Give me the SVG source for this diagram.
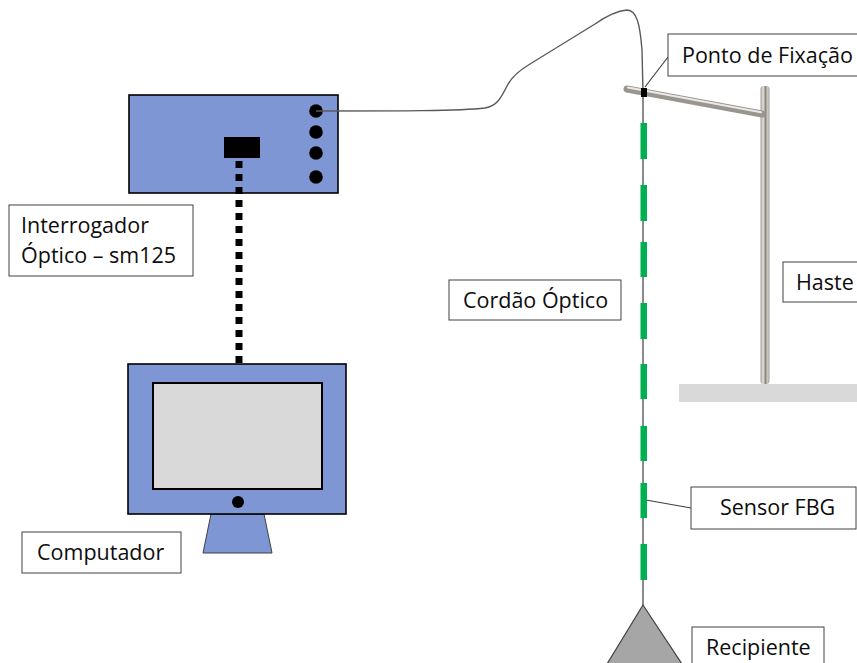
<svg xmlns="http://www.w3.org/2000/svg" width="857" height="663" viewBox="0 0 857 663">
  <style>
    .device { fill: #7F96D4; stroke: #000; stroke-width: 1.6; }
    .label-box { fill: #fff; stroke: #404040; stroke-width: 1; }
    .label { font-family: "Open Sans", "Liberation Sans", sans-serif; font-size: 21.5px; fill: #0d0d0d; }
    .leader { stroke: #404040; stroke-width: 1.2; fill: none; }
    .fbg { fill: #00B050; }
    .fiber { stroke: #595959; stroke-width: 1.4; fill: none; }
  </style>
  <defs>
    <linearGradient id="steel" x1="0" y1="0" x2="1" y2="0">
      <stop offset="0" stop-color="#a29d95"/>
      <stop offset="0.3" stop-color="#e4e1dc"/>
      <stop offset="0.55" stop-color="#8c877f"/>
      <stop offset="0.8" stop-color="#cfcbc5"/>
      <stop offset="1" stop-color="#a29d95"/>
    </linearGradient>
  </defs>

  <!-- stand: base plate, vertical pole and slanted arm -->
  <g id="haste">
    <rect x="679" y="384" width="178" height="18" fill="#D9D9D9"/>
    <rect x="760.5" y="86" width="9" height="298" rx="3" fill="url(#steel)"/>
    <line x1="627" y1="89" x2="762" y2="114" stroke="#9a958e" stroke-width="7" stroke-linecap="round"/>
    <line x1="628" y1="87.4" x2="761" y2="112.2" stroke="#ebe9e5" stroke-width="2" stroke-linecap="round"/>
  </g>

  <!-- optical interrogator -->
  <g id="interrogador">
    <rect class="device" x="129" y="95" width="209" height="98"/>
    <rect x="224" y="137" width="36" height="21" fill="#000"/>
    <circle cx="316" cy="111" r="6.8" fill="#000"/>
    <circle cx="316" cy="132" r="6.8" fill="#000"/>
    <circle cx="316" cy="153" r="6.8" fill="#000"/>
    <circle cx="316" cy="177" r="6.8" fill="#000"/>
  </g>

  <!-- computer monitor -->
  <g id="computador">
    <polygon points="211,514 264,514 272,553 203,553" fill="#7F96D4" stroke="#404040" stroke-width="1"/>
    <rect class="device" x="128" y="364" width="218" height="150" stroke-width="2"/>
    <rect x="153" y="383" width="169" height="106" fill="#D9D9D9" stroke="#000" stroke-width="2"/>
    <circle cx="238" cy="502" r="6" fill="#000"/>
  </g>

  <g id="conectores">
    <!-- data link interrogator to computer -->
    <line x1="239" y1="161" x2="239" y2="364" stroke="#000" stroke-width="7" stroke-dasharray="7 6"/>
    <!-- fiber cable from interrogator port to fixation point -->
    <path class="fiber" d="M316,111 C400,111 460,111 485,108 C497,106 501,98 507,86 C512,76 520,70 530,64 L595,24 C605,17 615,11 627,10 C637,10 640,25 642,50 L643,92"/>
    <!-- leader lines -->
    <line class="leader" x1="668" y1="57" x2="645" y2="87"/>
    <line class="leader" x1="691" y1="508" x2="646" y2="500"/>
  </g>

  <!-- hanging optical cord with FBG sensors -->
  <g id="cordao">
    <line class="fiber" x1="643" y1="92" x2="643" y2="606"/>
    <rect x="641" y="88" width="6" height="9" fill="#000"/>
    <rect class="fbg" x="640.5" y="123" width="6.5" height="36"/>
    <rect class="fbg" x="640.5" y="185" width="6.5" height="36"/>
    <rect class="fbg" x="640.5" y="242" width="6.5" height="35"/>
    <rect class="fbg" x="640.5" y="303" width="6.5" height="36"/>
    <rect class="fbg" x="640.5" y="364" width="6.5" height="35"/>
    <rect class="fbg" x="640.5" y="426" width="6.5" height="35"/>
    <rect class="fbg" x="640.5" y="483" width="6.5" height="35"/>
    <rect class="fbg" x="640.5" y="544" width="6.5" height="36"/>
  </g>

  <!-- container hanging at the end of the cord -->
  <g id="recipiente">
    <polygon points="643,605 607,664 682,664" fill="#A6A6A6" stroke="#404040" stroke-width="1.2"/>
  </g>

  <!-- labels -->
  <g id="label-interrogador">
    <rect class="label-box" x="9" y="205" width="184" height="71"/>
    <text class="label" x="21" y="233">Interrogador</text>
    <text class="label" x="21" y="263">Óptico – sm125</text>
  </g>
  <g id="label-computador">
    <rect class="label-box" x="22" y="532" width="159" height="41"/>
    <text class="label" x="37" y="560">Computador</text>
  </g>
  <g id="label-cordao">
    <rect class="label-box" x="449" y="280" width="172" height="40"/>
    <text class="label" x="463" y="308">Cordão Óptico</text>
  </g>
  <g id="label-fixacao">
    <rect class="label-box" x="668" y="34" width="195" height="42"/>
    <text class="label" x="682" y="63">Ponto de Fixação</text>
  </g>
  <g id="label-haste">
    <rect class="label-box" x="783" y="262" width="80" height="40"/>
    <text class="label" x="796" y="290">Haste</text>
  </g>
  <g id="label-sensor">
    <rect class="label-box" x="691" y="487" width="165" height="42"/>
    <text class="label" x="720" y="515">Sensor FBG</text>
  </g>
  <g id="label-recipiente">
    <rect class="label-box" x="692" y="627" width="132" height="42"/>
    <text class="label" x="706" y="655">Recipiente</text>
  </g>
</svg>
